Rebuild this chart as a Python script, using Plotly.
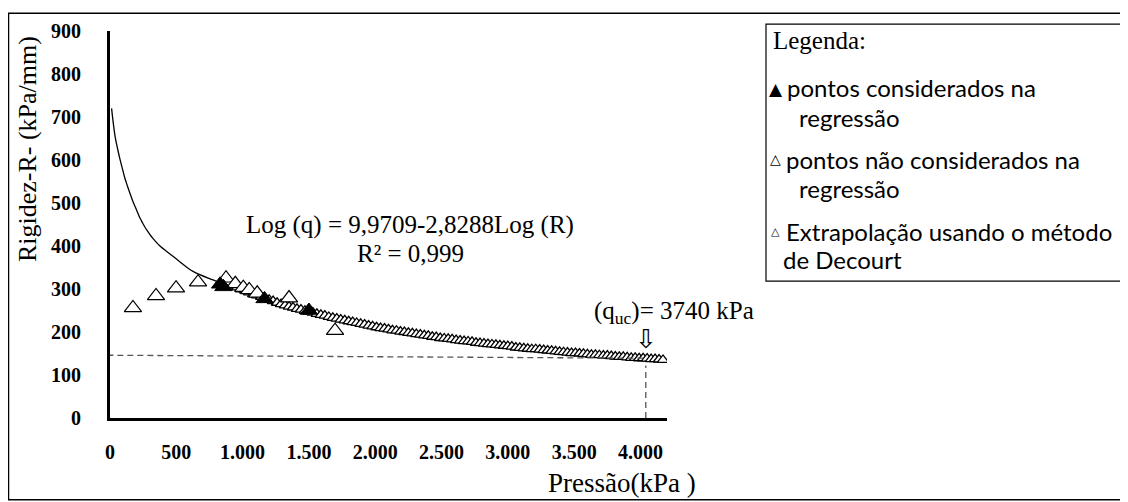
import plotly.graph_objects as go

# ---------------- data ----------------
curve_q = [12, 25, 40, 58, 75, 95, 113, 132, 151, 170, 190, 208, 226, 245, 265, 282, 300, 320, 340,
           377, 450, 528, 626, 777, 900, 1000, 1100, 1300, 1500, 1800, 2100, 2500, 3000, 3500, 4000, 4170]
curve_r = [720, 685, 652, 625, 602, 578, 557, 539, 522, 506, 491, 478, 465, 454, 443, 435, 427, 419, 412,
           400, 382, 363, 341, 321, 307, 296, 286, 264, 247, 225, 206, 186, 167, 151, 139, 135]

extrap_q = [930, 960, 990, 1020, 1050, 1080, 1110, 1140, 1170, 1200, 1230, 1260, 1290, 1320,
            1350, 1380, 1410, 1440, 1470, 1500, 1530, 1560, 1590, 1620, 1650, 1680, 1710,
            1740, 1770, 1800, 1830, 1860, 1890, 1920, 1950, 1980, 2010, 2040, 2070, 2100,
            2130, 2160, 2190, 2220, 2250, 2280, 2310, 2340, 2370, 2400, 2430, 2460, 2490,
            2520, 2550, 2580, 2610, 2640, 2670, 2700, 2730, 2760, 2790, 2820, 2850, 2880,
            2910, 2940, 2970, 3000, 3030, 3060, 3090, 3120, 3150, 3180, 3210, 3240, 3270,
            3300, 3330, 3360, 3390, 3420, 3450, 3480, 3510, 3540, 3570, 3600, 3630, 3660,
            3690, 3720, 3750, 3780, 3810, 3840, 3870, 3900, 3930, 3960, 3990, 4020, 4050,
            4080, 4110, 4140, 4170]
extrap_r = [308, 304, 299, 296, 292, 288, 285, 282, 278, 275, 272, 268, 265, 262,
            259, 257, 254, 252, 249, 247, 245, 242, 240, 238, 235, 233, 231,
            229, 227, 225, 223, 221, 219, 217, 215, 213, 211, 209, 208, 206,
            204, 203, 201, 200, 198, 197, 195, 194, 192, 191, 189, 188, 186,
            185, 184, 183, 181, 180, 179, 178, 177, 175, 174, 173, 172, 171,
            170, 169, 168, 167, 166, 164, 163, 162, 161, 160, 160, 159, 158,
            157, 156, 155, 154, 153, 152, 151, 151, 150, 149, 148, 147, 147,
            146, 145, 145, 144, 143, 142, 142, 141, 140, 140, 139, 139, 138,
            137, 137, 136, 135]

nao_q = [173, 347, 498, 664, 875, 945, 1005, 1050, 1110, 1350, 1697]
nao_r = [256, 284, 302, 316, 325, 312, 303, 298, 290, 279, 203]

cons_q = [830, 855, 1165, 1500]
cons_r = [311, 305, 277, 250]

x_tickvals = [0, 500, 1000, 1500, 2000, 2500, 3000, 3500, 4000]
x_ticktext = ["0", "500", "1.000", "1.500", "2.000", "2.500", "3.000", "3.500", "4.000"]
y_tickvals = [0, 100, 200, 300, 400, 500, 600, 700, 800, 900]

q_uc_line = 4040
r_dash = [146, 139]

# ---------------- layout helpers ----------------
# the page body adds an 8 px offset; the figure is sized so the plot area lands at
# screen x 110..667, y 28..418
OFF = 8
W, H = 1128 - OFF, 502 - OFF
PL, PR, PT, PB = 110, 667, 28, 418          # plot area in screen pixels
PW, PH = PR - PL, PB - PT
L, T = PL - OFF, PT - OFF
R_, B_ = W - L - PW, H - T - PH


def px(x):
    return (x - PL) / PW


def py(y):
    return (PB - y) / PH


SERIF = "Liberation Serif, Times New Roman, serif"
SANS = "Lato, Carlito, Calibri, sans-serif"

fig = go.Figure()

fig.add_trace(go.Scatter(x=curve_q, y=curve_r, mode="lines", line=dict(color="black", width=1.3, shape="spline"),
                         showlegend=False, hoverinfo="skip"))
fig.add_trace(go.Scatter(x=extrap_q, y=extrap_r, mode="markers",
                         marker=dict(symbol="triangle-up", size=10, color="white", line=dict(color="black", width=1.3)),
                         showlegend=False))
fig.add_trace(go.Scatter(x=nao_q, y=nao_r, mode="markers",
                         marker=dict(symbol="triangle-up", size=15, color="white", line=dict(color="black", width=1.2)),
                         showlegend=False))
fig.add_trace(go.Scatter(x=cons_q, y=cons_r, mode="markers",
                         marker=dict(symbol="triangle-up", size=15, color="black", line=dict(color="black", width=1)),
                         showlegend=False))

shapes = [
    dict(type="line", xref="x", yref="y", x0=-20, y0=r_dash[0], x1=q_uc_line, y1=r_dash[1],
         line=dict(color="#555555", width=1.3, dash="6px,4px")),
    dict(type="line", xref="x", yref="y", x0=q_uc_line, y0=0, x1=q_uc_line, y1=122,
         line=dict(color="#555555", width=1.3, dash="6px,4px")),
    dict(type="rect", xref="paper", yref="paper", x0=px(8.5), y0=py(500.5), x1=px(1126.5), y1=py(10),
         line=dict(color="black", width=1.5)),
    dict(type="rect", xref="paper", yref="paper", x0=px(766), y0=py(280), x1=px(1122), y1=py(21),
         line=dict(color="black", width=1.2)),
]

ann = []


def text(x, y, s, size=24, family=SERIF, xanchor="center", angle=0, yanchor="middle"):
    ann.append(dict(x=px(x), y=py(y), xref="paper", yref="paper", text=s, showarrow=False,
                    xanchor=xanchor, yanchor=yanchor, textangle=angle,
                    font=dict(family=family, size=size, color="black")))


text(410, 223, "Log (q) = 9,9709-2,8288Log (R)", size=25)
text(410, 252, "R² = 0,999", size=25)
text(674, 312, "(q<sub>uc</sub>)= 3740 kPa", size=25)
text(646, 338, "⇩", size=26, family="DejaVu Sans")
text(27, 147, "Rigidez-R- (kPa/mm)", size=26, angle=-90)
text(622, 483, "Pressão(kPa )", size=27)

# legend
text(771, 38, "Legenda:", size=25, xanchor="left")
text(776, 86, "▲", size=17, family="DejaVu Sans")
text(785, 85, "pontos considerados na", family=SANS, xanchor="left")
text(797, 115, "regressão", family=SANS, xanchor="left")
text(775, 157, "△", size=14, family="DejaVu Sans")
text(784, 157, "pontos não considerados na", family=SANS, xanchor="left")
text(797, 187, "regressão", family=SANS, xanchor="left")
text(775, 230, "△", size=11, family="DejaVu Sans")
text(784, 230, "Extrapolação usando o método", family=SANS, xanchor="left")
text(781, 258, "de Decourt", family=SANS, xanchor="left")

fig.update_layout(
    width=W, height=H,
    margin=dict(l=L, r=R_, t=T, b=B_, pad=0),
    paper_bgcolor="white", plot_bgcolor="white",
    shapes=shapes, annotations=ann,
    xaxis=dict(range=[0, 4200], tickvals=x_tickvals, ticktext=x_ticktext, showgrid=False, zeroline=False,
               showline=True, linecolor="black", linewidth=3, ticks="", ticklabelstandoff=14,
               tickfont=dict(family=SERIF, size=20, color="black", weight="bold")),
    yaxis=dict(range=[0, 900], tickvals=y_tickvals, showgrid=False, zeroline=False,
               showline=True, linecolor="black", linewidth=3, ticks="", ticklabelstandoff=22,
               tickfont=dict(family=SERIF, size=20, color="black", weight="bold")),
    showlegend=False,
)

fig.write_html("out.html")
